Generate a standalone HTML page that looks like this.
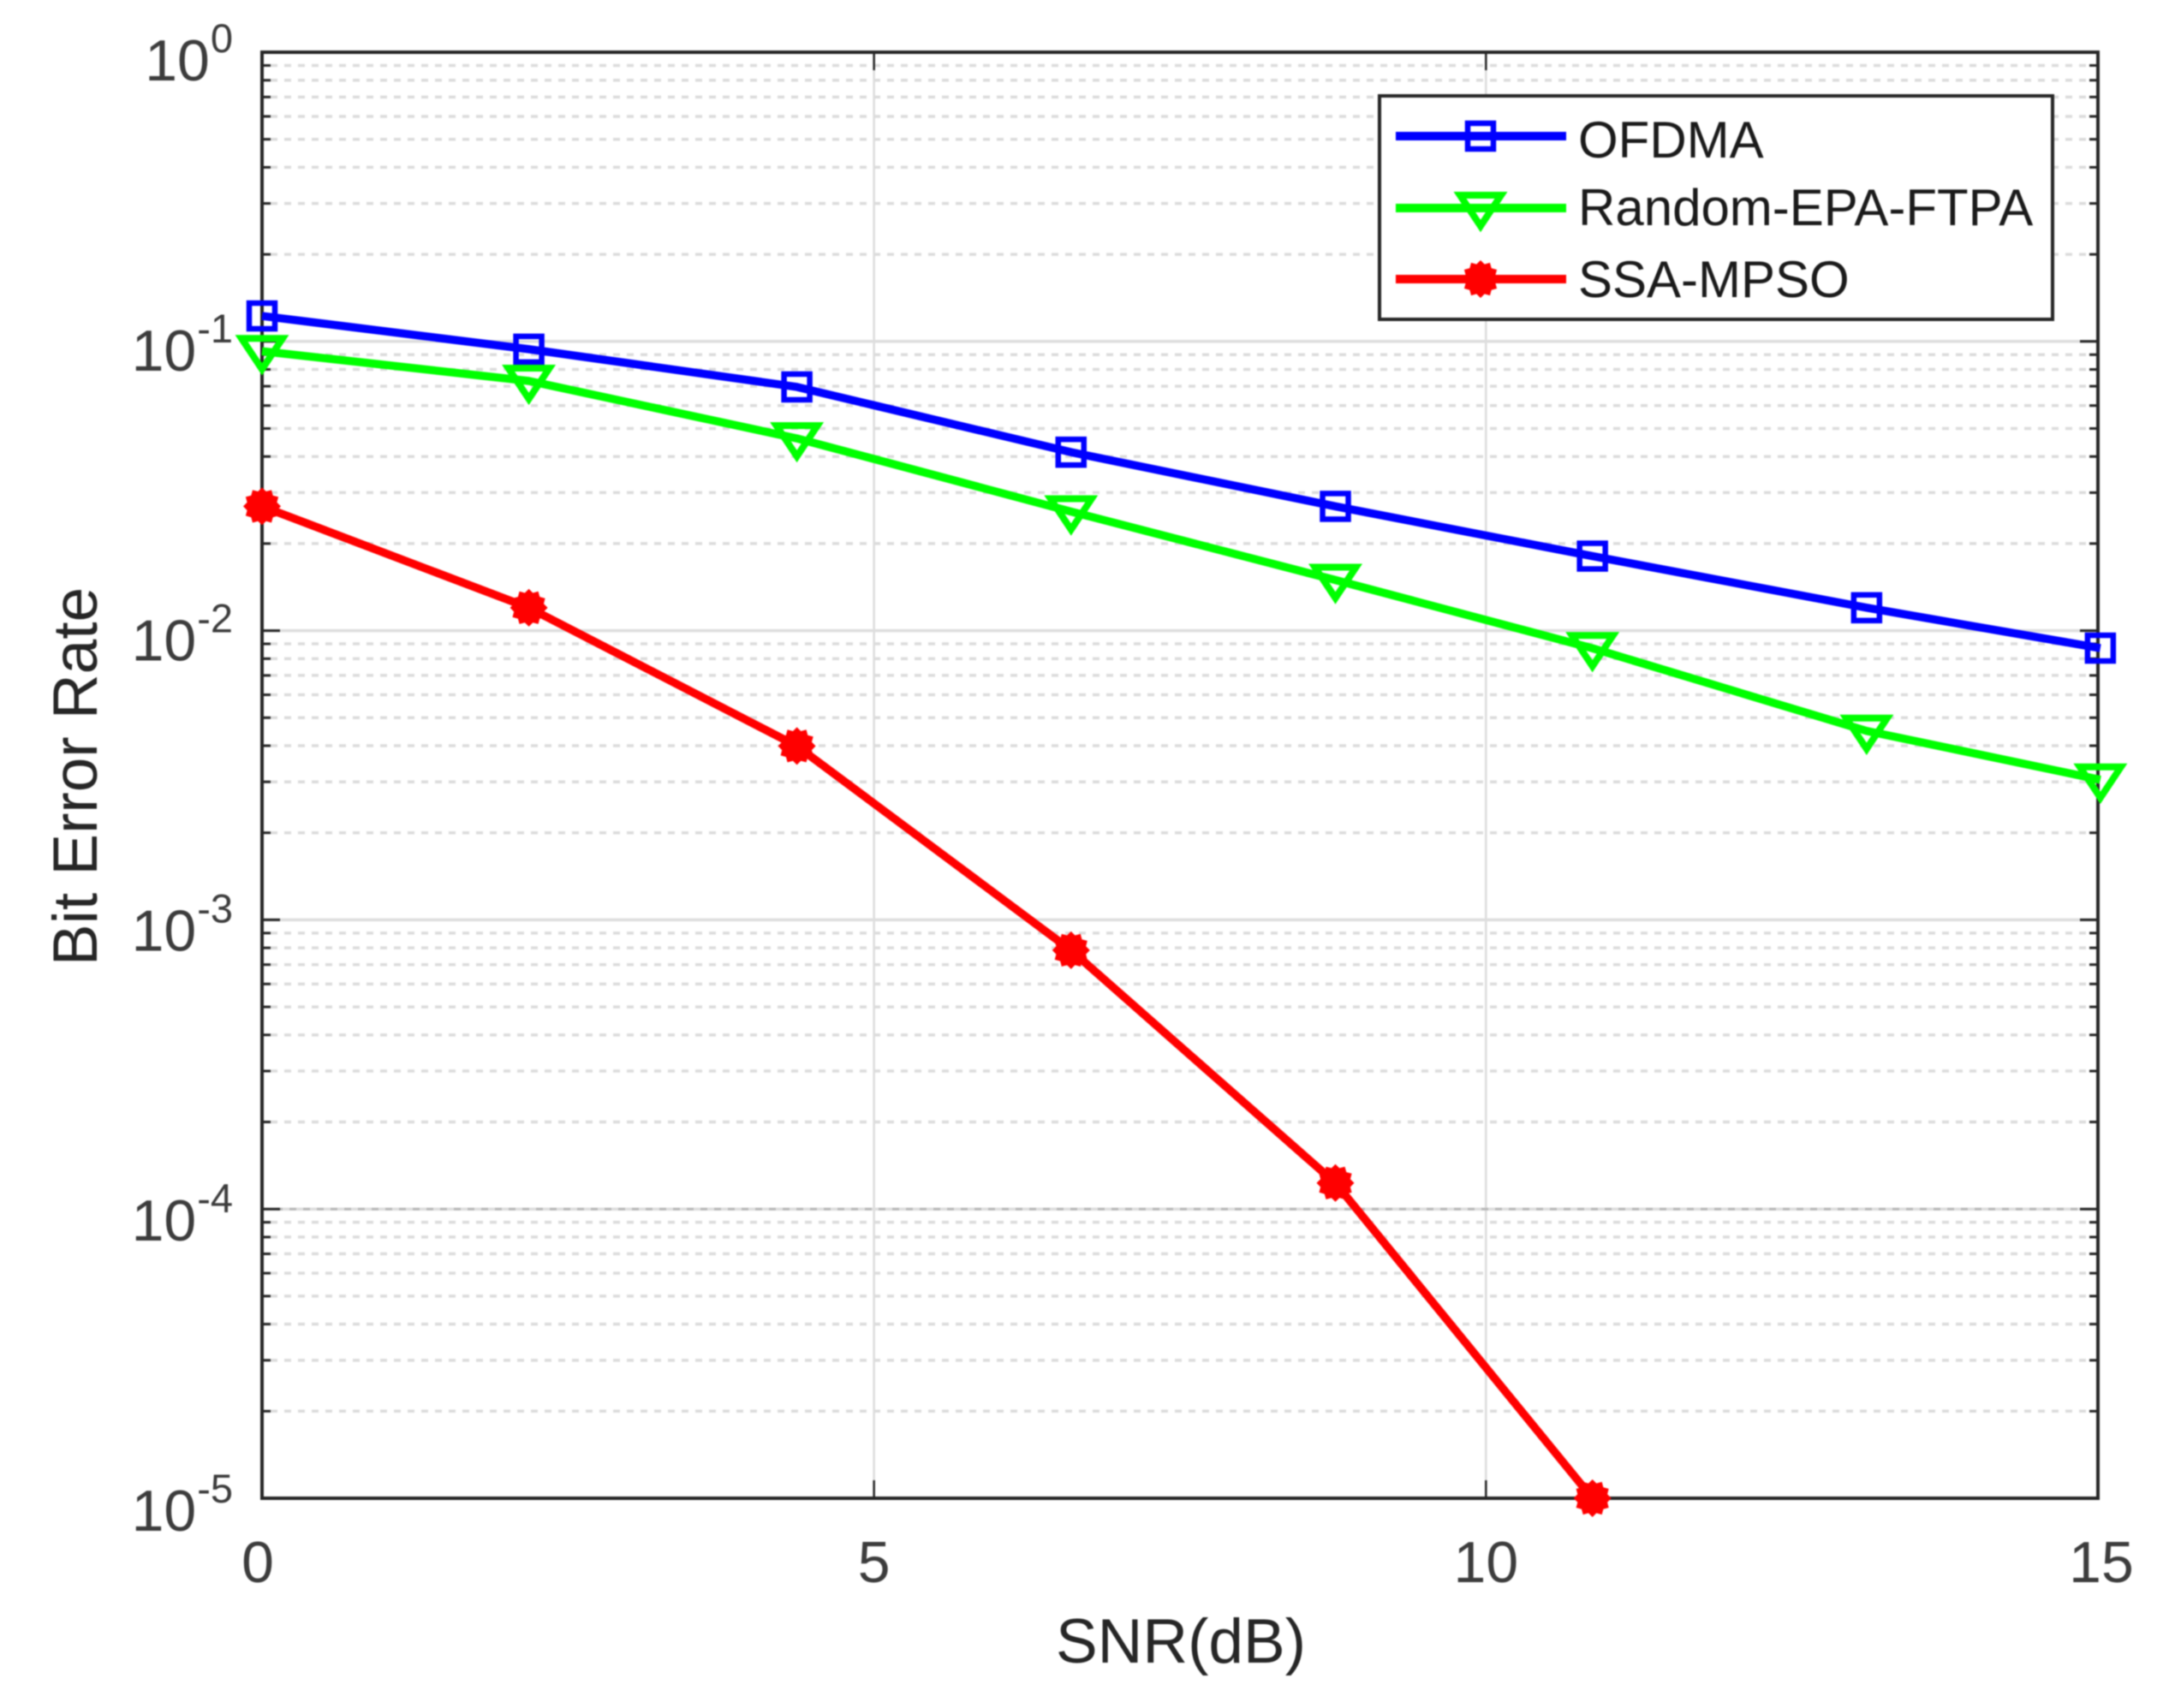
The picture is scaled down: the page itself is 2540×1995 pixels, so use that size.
<!DOCTYPE html>
<html>
<head>
<meta charset="utf-8">
<title>Bit Error Rate vs SNR</title>
<style>
html,body{margin:0;padding:0;background:#fff;}
svg{display:block;filter:blur(0.8px);}
text{font-family:"Liberation Sans",sans-serif;}
</style>
</head>
<body>
<svg id="chart" xmlns="http://www.w3.org/2000/svg" width="2540" height="1995" viewBox="0 0 2540 1995">
  <rect x="0" y="0" width="2540" height="1995" fill="#ffffff"/>
  <rect x="306" y="61" width="2144" height="1689" fill="#ffffff"/>
  <g id="grid"></g>
  <g id="ticks"></g>
  <rect x="306" y="61" width="2144" height="1689" fill="none" stroke="#262626" stroke-width="4"/>
  <g id="tick-labels" fill="#3c3c3c"></g>
  <text x="1379" y="1942" font-size="73" text-anchor="middle" fill="#262626">SNR(dB)</text>
  <text transform="translate(113,907) rotate(-90)" font-size="73" text-anchor="middle" fill="#262626">Bit Error Rate</text>
  <g id="series"></g>
  <g>
    <rect x="1611" y="112" width="786" height="261" fill="#ffffff" stroke="#262626" stroke-width="4"/>
    <g id="legend-keys"></g>
    <text x="1843" y="184" font-size="60" fill="#1a1a1a">OFDMA</text>
    <text x="1843" y="263" font-size="60" fill="#1a1a1a">Random-EPA-FTPA</text>
    <text x="1843" y="347" font-size="60" fill="#1a1a1a">SSA-MPSO</text>
  </g>
</svg>
<script>
const xTicks = [0, 5, 10, 15];
const yTickExponents = [0, -1, -2, -3, -4, -5];
const minorMultipliers = [2, 3, 4, 5, 6, 7, 8, 9];
const snrPositions = [0, 2.18, 4.37, 6.61, 8.77, 10.87, 13.11, 15.02];
const ofdmaValues = [0.1225, 0.094, 0.0696, 0.0414, 0.0269, 0.0181, 0.012, 0.0087];
const randomEpaValues = [0.0925, 0.073, 0.0462, 0.0258, 0.01496, 0.00869, 0.0045, 0.00305];
const ssaMpsoValues = [0.0269, 0.012, 0.00399, 0.000785, 0.000123, 0.00001];

const NS = 'http://www.w3.org/2000/svg';
const LEFT = 306, RIGHT = 2450, TOP = 61, BOTTOM = 1750;
function xScale(v) { return LEFT + (v - 0) / 15 * (RIGHT - LEFT); }
function yScale(v) { return TOP + (0 - Math.log10(v)) / 5 * (BOTTOM - TOP); }
function mk(tag, parent, attrs) {
  const el = document.createElementNS(NS, tag);
  for (const k in attrs) el.setAttribute(k, attrs[k]);
  parent.appendChild(el);
  return el;
}
const gridG = document.getElementById('grid');
const ticksG = document.getElementById('ticks');
const labelsG = document.getElementById('tick-labels');
const seriesG = document.getElementById('series');
const legendG = document.getElementById('legend-keys');

/* vertical grid + x ticks + x labels */
xTicks.forEach(function (t) {
  const x = xScale(t);
  if (t > 0 && t < 15) {
    const g = mk('line', gridG, { x1: x, x2: x, y1: TOP, y2: BOTTOM, stroke: '#dcdcdc', 'stroke-width': 2.5 });
    
    
    const a = mk('line', ticksG, { x1: x, x2: x, y1: TOP, y2: TOP + 21, stroke: '#262626', 'stroke-width': 2.5 });
    
    
    const b = mk('line', ticksG, { x1: x, x2: x, y1: BOTTOM - 21, y2: BOTTOM, stroke: '#262626', 'stroke-width': 2.5 });
    
    
  }
  const lbl = mk('text', labelsG, { x: x + (t === 0 ? -5 : t === 15 ? 4 : 0), y: 1848, 'font-size': 68, 'text-anchor': 'middle' });
  
  
  lbl.textContent = String(t);
});

/* horizontal grid + y ticks + y labels */
yTickExponents.forEach(function (e, i) {
  const v = Math.pow(10, e);
  const y = yScale(v);
  if (e !== 0 && e !== -5) {
    const g = mk('line', gridG, { x1: LEFT, x2: RIGHT, y1: y, y2: y, stroke: '#dedede', 'stroke-width': 3.5 });
    
    
    if (e === -4) {
      const o = mk('line', gridG, { x1: LEFT, x2: RIGHT, y1: y, y2: y, stroke: '#b8b8b8', 'stroke-width': 3, 'stroke-dasharray': '8 8' });
      
      
    }
    const l = mk('line', ticksG, { x1: LEFT, x2: LEFT + 21, y1: y, y2: y, stroke: '#262626', 'stroke-width': 3 });
    
    
    const r = mk('line', ticksG, { x1: RIGHT - 21, x2: RIGHT, y1: y, y2: y, stroke: '#262626', 'stroke-width': 3 });
    
    
  }
  if (e > -5) {
    minorMultipliers.forEach(function (m) {
      const my = yScale(m * v / 10);
      const g = mk('line', gridG, { x1: LEFT + 10, x2: RIGHT - 10, y1: my, y2: my, stroke: '#dcdcdc', 'stroke-width': 3.5, 'stroke-dasharray': '8 8' });
      
      
      const l = mk('line', ticksG, { x1: LEFT, x2: LEFT + 10, y1: my, y2: my, stroke: '#262626', 'stroke-width': 3 });
      
      
      const r = mk('line', ticksG, { x1: RIGHT - 10, x2: RIGHT, y1: my, y2: my, stroke: '#262626', 'stroke-width': 3 });
      
      
    });
  }
  const base = y + 33 + i;
  const sup = mk('text', labelsG, { x: 272, y: base - 33, 'font-size': 47, 'text-anchor': 'end' });
  
  
  sup.textContent = String(e);
  const w = sup.getComputedTextLength();
  const txt = mk('text', labelsG, { x: 272 - w - 1, y: base, 'font-size': 68, 'text-anchor': 'end' });
  
  
  txt.textContent = '10';
});

/* markers */
function drawSquare(parent, cx, cy, color) {
  const s = mk('rect', parent, { x: cx - 15, y: cy - 15, width: 30, height: 30, fill: 'none', stroke: color, 'stroke-width': 6.5 });
  
  
}
function drawTriangle(parent, cx, cy, color) {
  const pts = [[cx - 24, cy - 15], [cx + 24, cy - 15], [cx, cy + 21]].map(function (p) { return p.join(','); }).join(' ');
  const s = mk('polygon', parent, { points: pts, fill: 'none', stroke: color, 'stroke-width': 8, 'stroke-linejoin': 'miter' });
  
  
}
function drawStar(parent, cx, cy, color) {
  const pts = [];
  for (let k = 0; k < 24; k++) {
    const r = k % 2 ? 18 : 22;
    const a = Math.PI * k / 12;
    pts.push((cx + r * Math.sin(a)).toFixed(1) + ',' + (cy - r * Math.cos(a)).toFixed(1));
  }
  const s = mk('polygon', parent, { points: pts.join(' '), fill: color });
  
  
}

/* series */
function drawSeries(values, color, marker, name) {
  const g = mk('g', seriesG, {});
  
  
  const pts = values.map(function (v, i) { return xScale(snrPositions[i]) + ',' + yScale(v); }).join(' ');
  const pl = mk('polyline', g, { points: pts, fill: 'none', stroke: color, 'stroke-width': 9.5, 'stroke-linejoin': 'round' });
  
  
  values.forEach(function (v, i) { marker(g, xScale(snrPositions[i]), yScale(v), color); });
}
drawSeries(ofdmaValues, '#0000ff', drawSquare, 'series-ofdma');
drawSeries(randomEpaValues, '#00ff00', drawTriangle, 'series-random-epa-ftpa');
drawSeries(ssaMpsoValues, '#ff0000', drawStar, 'series-ssa-mpso');

/* legend keys */
function legendKey(yPos, color, marker, name) {
  const l = mk('line', legendG, { x1: 1630, x2: 1829, y1: yPos, y2: yPos, stroke: color, 'stroke-width': 10 });
  
  
  marker(legendG, 1729, yPos, color);
}
legendKey(159, '#0000ff', drawSquare, 'legend-key-ofdma');
legendKey(243, '#00ff00', drawTriangle, 'legend-key-random-epa-ftpa');
legendKey(326, '#ff0000', drawStar, 'legend-key-ssa-mpso');
</script>
</body>
</html>
